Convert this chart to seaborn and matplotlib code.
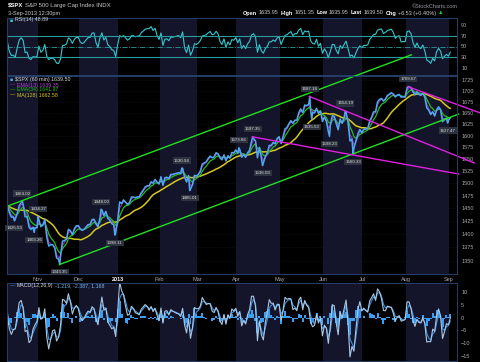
import numpy as np
import pandas as pd
import matplotlib
matplotlib.use("Agg")
import matplotlib.pyplot as plt
import seaborn as sns
from matplotlib.ticker import FixedLocator, FixedFormatter, NullLocator

# ---------------- data (daily closes, trading-day index; Nov 1 2012 = 0) ----------------
closes_warmup = [1429.1, 1433.6, 1436.6, 1460.0, 1465.8, 1461.2, 1459.3, 1461.1, 1460.3, 1460.2,
                 1456.9, 1441.6, 1433.3, 1447.2, 1440.7, 1444.5, 1445.8, 1451.0, 1461.4, 1460.9]
closes_oct = [1455.9, 1441.5, 1432.6, 1432.8, 1428.6, 1440.1, 1454.9, 1460.9, 1457.3, 1433.2,
              1433.8, 1413.1, 1408.8, 1413.0, 1411.9, 1412.2]
closes_nov = [1427.6, 1414.2, 1417.3, 1428.4, 1394.5, 1377.5, 1380.0, 1380.0, 1374.5, 1355.5,
              1353.3, 1359.9, 1386.9, 1387.8, 1391.0, 1409.2, 1406.3, 1398.9, 1409.9, 1415.9, 1416.2]
closes_dec = [1409.5, 1407.1, 1409.3, 1413.9, 1418.1, 1418.6, 1427.8, 1428.5, 1419.5, 1413.6,
              1430.4, 1446.8, 1435.8, 1443.7, 1430.2, 1426.7, 1419.8, 1418.1, 1402.4, 1426.2]
closes_jan = [1462.4, 1459.4, 1466.5, 1461.9, 1457.2, 1461.0, 1472.1, 1472.1, 1470.7, 1472.3,
              1472.6, 1480.9, 1485.9, 1492.6, 1494.8, 1494.8, 1503.0, 1500.2, 1507.8, 1502.0, 1498.1]
closes_feb = [1513.2, 1495.7, 1511.3, 1512.1, 1509.4, 1517.9, 1518.0, 1519.4, 1520.3, 1521.4,
              1519.8, 1530.9, 1512.0, 1502.4, 1515.6, 1487.9, 1496.9, 1516.0, 1514.7]
closes_mar = [1518.2, 1525.2, 1539.8, 1541.5, 1544.3, 1551.2, 1556.2, 1552.5, 1554.5, 1563.2,
              1560.7, 1552.1, 1548.3, 1558.7, 1545.8, 1556.9, 1551.7, 1563.8, 1562.9, 1569.2]
closes_apr = [1562.2, 1570.3, 1553.7, 1560.0, 1553.3, 1563.1, 1568.6, 1587.7, 1593.4, 1588.9,
              1552.4, 1574.6, 1552.0, 1541.6, 1555.3, 1562.5, 1578.8, 1578.8, 1585.2, 1582.2,
              1593.6, 1597.6]
closes_may = [1582.7, 1597.6, 1614.4, 1617.5, 1626.0, 1632.7, 1626.7, 1633.7, 1633.8, 1650.3,
              1658.8, 1650.5, 1667.5, 1666.3, 1669.2, 1655.4, 1650.5, 1649.6, 1660.1, 1648.4,
              1654.4, 1630.7]
closes_jun = [1640.4, 1631.4, 1608.9, 1622.6, 1643.4, 1642.8, 1626.1, 1612.5, 1636.4, 1626.7,
              1639.0, 1651.8, 1628.9, 1588.2, 1592.4, 1573.1, 1588.0, 1603.3, 1613.2, 1606.3]
closes_jul = [1614.1, 1614.1, 1615.4, 1631.9, 1640.5, 1652.3, 1652.6, 1675.0, 1680.2, 1682.5,
              1676.3, 1680.9, 1689.4, 1692.1, 1695.5, 1692.4, 1685.9, 1690.3, 1691.7, 1685.3,
              1686.0, 1685.7]
closes_aug = [1706.9, 1709.7, 1707.1, 1697.4, 1690.9, 1697.5, 1691.4, 1689.5, 1694.2, 1685.4,
              1661.3, 1655.8, 1646.1, 1652.4, 1642.8, 1657.0, 1663.5, 1656.8, 1630.5, 1635.0,
              1638.2, 1633.0]
closes_sep = [1639.5]
first_day = -36

month_starts = [0, 21, 41, 62, 81, 101, 123, 145, 165, 187, 209]
month_labels = ["Nov", "Dec", "2013", "Feb", "Mar", "Apr", "May", "Jun", "Jul", "Aug", "Sep"]

# labelled swing highs / lows
swing_day = [-12, -8, 0, -2, 11, 32, 39, 73, 77, 102, 109, 114, 138, 139, 148, 156, 160, 188, 208]
swing_price = [1425.53, 1464.02, 1434.27, 1403.26, 1343.35, 1448.00, 1398.11, 1530.94, 1485.01,
               1573.66, 1597.35, 1536.03, 1687.18, 1635.53, 1598.23, 1654.19, 1560.33, 1709.67,
               1627.47]
swing_kind = ["L", "H", "H", "L", "L", "H", "L", "H", "L", "H", "H", "L", "H", "L", "L", "H", "L",
              "H", "L"]

# trend lines (day index, price)
green_upper_day, green_upper_px = [-15, 190], [1454.5, 1785.0]
green_lower_day, green_lower_px = [11, 214], [1343.35, 1647.4]
mag_a_day, mag_a_px = [138, 222], [1687.18, 1541.4]
mag_b_day, mag_b_px = [109, 214], [1597.35, 1518.7]
mag_c_day, mag_c_px = [188, 225], [1709.67, 1649.6]

main_ticks = [1350, 1375, 1400, 1425, 1450, 1475, 1500, 1525, 1550, 1575, 1600, 1625, 1650,
              1675, 1700, 1725]
rsi_ticks = [10, 30, 50, 70, 90]
macd_ticks = [-15, -10, -5, 0, 5, 10]

# ---------------- derived series ----------------
closes = (closes_warmup + closes_oct + closes_nov + closes_dec + closes_jan + closes_feb +
          closes_mar + closes_apr + closes_may + closes_jun + closes_jul + closes_aug + closes_sep)
days = np.arange(first_day, first_day + len(closes))
s = pd.Series(closes, index=days, dtype=float)
ema13 = s.ewm(span=13 / 7, adjust=False).mean()
ema34 = s.ewm(span=34 / 7, adjust=False).mean()
ma128 = s.rolling(18, min_periods=1).mean()
d = s.diff()
up = d.clip(lower=0).ewm(alpha=1 / 7, adjust=False).mean()
dn = (-d.clip(upper=0)).ewm(alpha=1 / 7, adjust=False).mean()
rsi = 100 - 100 / (1 + up / dn)
macd = s.ewm(span=12 / 7, adjust=False).mean() - s.ewm(span=26 / 7, adjust=False).mean()
signal = macd.ewm(span=2.5, adjust=False).mean()
hist = macd - signal

vis = days >= -16
df = pd.DataFrame({"x": days[vis] + 0.7, "close": s.values[vis], "ema13": ema13.values[vis],
                   "ema34": ema34.values[vis], "ma128": ma128.values[vis], "rsi": rsi.values[vis],
                   "macd": macd.values[vis], "signal": signal.values[vis], "hist": hist.values[vis]})
price_df = pd.concat([df[["x", "close"]],
                      pd.DataFrame({"x": np.array(swing_day) + 0.3, "close": swing_price})])
price_df = price_df.sort_values("x")

# ---------------- style ----------------
sns.set_style("dark", {"axes.facecolor": "black", "figure.facecolor": "black"})
plt.rcParams["font.family"] = ["Liberation Sans", "DejaVu Sans"]

W, H = 480, 362
fig = plt.figure(figsize=(4.8, 3.62), dpi=100, facecolor="black")


def fx(px):
    return px / W


def fy(py):
    return 1 - py / H


L, R = 7, 457
ax_rsi = fig.add_axes([fx(L), fy(75), fx(R) - fx(L), fy(18) - fy(75)])
ax_main = fig.add_axes([fx(L), fy(274), fx(R) - fx(L), fy(76) - fy(274)])
ax_macd = fig.add_axes([fx(L), fy(361), fx(R) - fx(L), fy(283) - fy(361)])
ax_main.set_zorder(3)

XL = (-15.5, 213.05)
band = "#14142a"
spine_c = "#24406a"
tick_c = "#a8a8b0"
for ax in (ax_rsi, ax_main, ax_macd):
    ax.set_facecolor("black")
    ax.axvspan(-40, 0, color=band, lw=0, zorder=0)
    for k in range(1, len(month_starts) - 1, 2):
        ax.axvspan(month_starts[k], month_starts[k + 1], color=band, lw=0, zorder=0)
    for sp in ax.spines.values():
        sp.set_color(spine_c)
        sp.set_linewidth(0.7)
    ax.yaxis.tick_right()
    ax.tick_params(axis="y", length=0, pad=3, labelsize=4, labelcolor=tick_c)
    ax.grid(False)

# ---------------- main panel ----------------
ax = ax_main
ax.set_yscale("log")
sns.lineplot(data=df, x="x", y="ma128", ax=ax, color="#d6c81c", lw=1.1)
sns.lineplot(data=df, x="x", y="ema34", ax=ax, color="#20c020", lw=0.9)
sns.lineplot(data=df, x="x", y="ema13", ax=ax, color="#a030c8", lw=0.7)
sns.lineplot(data=price_df, x="x", y="close", ax=ax, color="#4fa8f0", lw=1.1, estimator=None,
             sort=True)
for dd, pp, col in [(green_upper_day, green_upper_px, "#22e022"),
                    (green_lower_day, green_lower_px, "#22e022"),
                    (mag_a_day, mag_a_px, "#e020e0"),
                    (mag_b_day, mag_b_px, "#e020e0"),
                    (mag_c_day, mag_c_px, "#e020e0")]:
    sns.lineplot(x=dd, y=pp, ax=ax, color=col, lw=1.0)
    ax.lines[-1].set_clip_on(False)

for dd, pp, kk in zip(swing_day, swing_price, swing_kind):
    off = 4 if kk == "H" else -4
    ax.annotate(f"{pp:.2f}", (dd + 0.3, pp), xytext=(0, off), textcoords="offset points",
                ha="center", va="bottom" if kk == "H" else "top", fontsize=3.2, color="#e0e0e0",
                bbox=dict(boxstyle="square,pad=0.25", fc="#2c323e", ec="none"), zorder=6)

ax.set_ylim(1326.4, 1734.4)
ax.set_xlim(*XL)
ax.yaxis.set_major_locator(FixedLocator(main_ticks))
ax.yaxis.set_major_formatter(FixedFormatter([str(t) for t in main_ticks]))
ax.yaxis.set_minor_locator(NullLocator())
for t in main_ticks:
    ax.axhline(t, color="#1b2030", lw=0.4, ls=":", zorder=0.5)
ax.set_xticks(month_starts)
ax.set_xticklabels(month_labels)
ax.tick_params(axis="x", length=0, pad=2, labelsize=4, labelcolor=tick_c)
for lab in ax.get_xticklabels():
    if lab.get_text() == "2013":
        lab.set_fontweight("bold")
        lab.set_color("white")
ax.set_xlabel("")
ax.set_ylabel("")

# ---------------- RSI ----------------
ax = ax_rsi
sns.lineplot(data=df, x="x", y="rsi", ax=ax, color="#35c8d0", lw=0.8)
ax.axhline(70, color="#2a9c9c", lw=0.8)
ax.axhline(30, color="#2a9c9c", lw=0.8)
ax.axhline(50, color="#2a9c9c", lw=0.6, ls="-.")
ax.set_ylim(-3, 103)
ax.set_xlim(*XL)
ax.set_yticks(rsi_ticks)
ax.set_xticks([])
ax.set_xlabel("")
ax.set_ylabel("")

# ---------------- MACD ----------------
ax = ax_macd
ax.bar(df["x"], df["hist"], width=1.0, color="#3a9ff0", lw=0, zorder=2)
sns.lineplot(data=df, x="x", y="signal", ax=ax, color="#3590e0", lw=0.8)
sns.lineplot(data=df, x="x", y="macd", ax=ax, color="#a8c8e4", lw=0.8)
ax.set_ylim(-17, 13.5)
ax.set_xlim(*XL)
ax.set_yticks(macd_ticks)
ax.set_xticks([])
ax.set_xlabel("")
ax.set_ylabel("")

# ---------------- texts ----------------
renderer = fig.canvas.get_renderer()


def seq_text(x0, py, parts, fs):
    x = x0
    for txt, col, wt in parts:
        t = fig.text(fx(x), fy(py), txt, color=col, fontsize=fs, fontweight=wt, ha="left",
                     va="center")
        bb = t.get_window_extent(renderer=renderer)
        x = bb.x1 + 1.8


seq_text(8, 5, [("$SPX", "white", "bold"), ("S&P 500 Large Cap Index INDX", "#c8c8c8", "normal")], 4.3)
seq_text(8, 13, [("3-Sep-2013 12:30pm", "#c8c8c8", "normal")], 4.0)
seq_text(243, 13, [("Open", "white", "bold"), ("1635.95", "#c8c8c8", "normal"),
                   ("High", "white", "bold"), ("1651.35", "#c8c8c8", "normal"),
                   ("Low", "white", "bold"), ("1635.95", "#c8c8c8", "normal"),
                   ("Last", "white", "bold"), ("1639.50", "#c8c8c8", "normal"),
                   ("Chg", "white", "bold"), ("+6.53 (+0.40%)", "#c8c8c8", "normal"),
                   ("▲", "#22cc22", "normal")], 4.0)
fig.text(fx(458), fy(6), "©StockCharts.com", color="#9a9aa6", fontsize=4.0, ha="right",
         va="center")

seq_text(10, 20, [("■", "#35c8d0", "normal"), ("RSI(14) 48.89", "#d8d8d8", "normal")], 3.8)
seq_text(10, 79.5, [("■", "#4fa8f0", "normal"), ("$SPX (60 min) 1639.50", "#d8d8d8", "normal")], 3.8)
seq_text(10, 85, [("—", "#a030c8", "normal"), ("EMA(13) 1639.35", "#b040d8", "normal")], 3.8)
seq_text(10, 90, [("—", "#20c020", "normal"), ("EMA(34) 1641.97", "#20c020", "normal")], 3.8)
seq_text(10, 95, [("—", "#d6c81c", "normal"), ("MA(128) 1662.58", "#d6c81c", "normal")], 3.8)
seq_text(10, 286, [("—", "#3a9ff0", "normal"), ("MACD(12,26,9)", "#d8d8d8", "normal"),
                   ("-1.219, -2.387, 1.168", "#7ab8f0", "normal")], 3.8)

fig.savefig("out.png", dpi=100, facecolor="black")
